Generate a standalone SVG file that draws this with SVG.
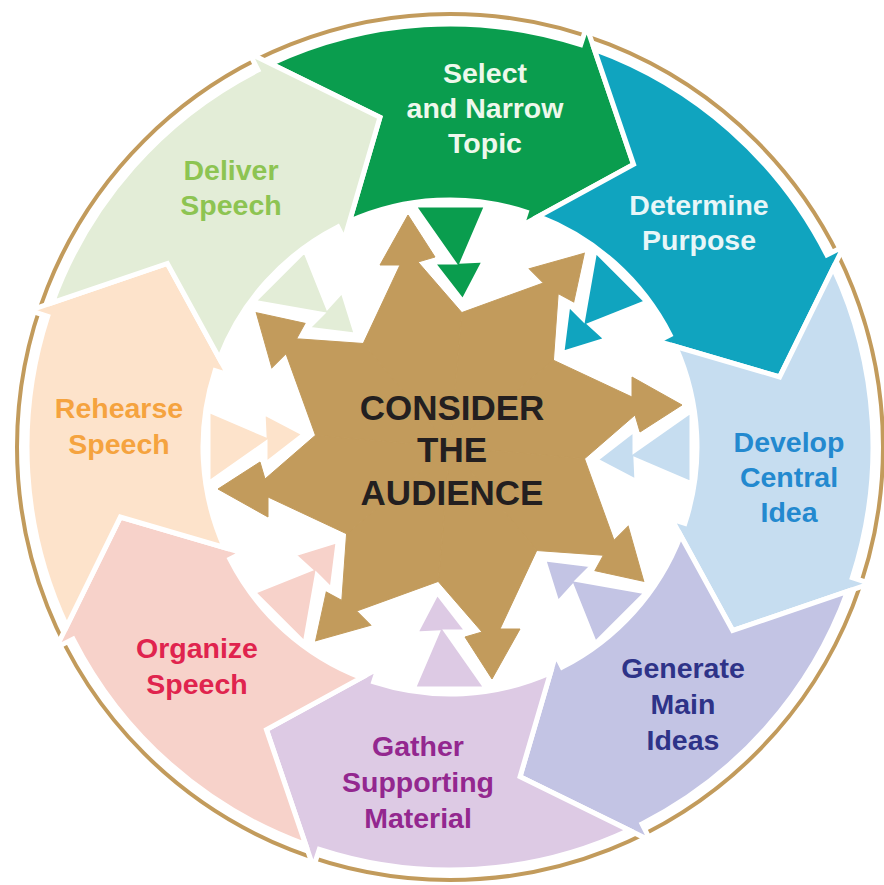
<svg xmlns="http://www.w3.org/2000/svg" xmlns:xlink="http://www.w3.org/1999/xlink" width="884" height="885" viewBox="0 0 884 885">
<style>
.lbl{font-family:"Liberation Sans",Arial,sans-serif;font-weight:bold;font-size:28.5px;text-anchor:middle}
.ctr{font-family:"Liberation Sans",Arial,sans-serif;font-weight:bold;font-size:35px;text-anchor:middle;fill:#231F20}
</style>
<defs>
<path id="seg" stroke="#FFFFFF" stroke-width="5" stroke-linejoin="miter" d="M270.91,63.78 A423,423 0 0 1 580.71,44.70 L586.59,26.63 L633.54,164.37 L522.00,225.40 L526.33,212.09 A247,247 0 0 0 349.50,221.37 L379.93,117.36 Z"/>
<polygon id="inw" stroke="#FFFFFF" stroke-width="5" stroke-linejoin="miter" points="413,205 487,205 463,261 485,260 463,302 432,262 453,262"/>
<polygon id="pt" fill="#C29B5C" stroke="#C29B5C" stroke-width="1" points="450,447 363.22,343.58 400,265 380,265 408,215 435,257 418,262 461.77,312.51"/>
</defs>
<rect width="884" height="885" fill="#FFFFFF"/>
<circle cx="450" cy="447" r="433" fill="none" stroke="#C29B5C" stroke-width="4"/>

<g id="node-select">
<use xlink:href="#seg" href="#seg" fill="#0A9D4E"/>
<text class="lbl" fill="#EEF8EC" x="485" y="83">Select</text>
<text class="lbl" fill="#EEF8EC" x="485" y="118">and Narrow</text>
<text class="lbl" fill="#EEF8EC" x="485" y="153">Topic</text>
</g>
<g id="node-purpose">
<use xlink:href="#seg" href="#seg" fill="#10A4BF" transform="rotate(45 450 447)"/>
<text class="lbl" fill="#E8F6F8" x="699" y="215">Determine</text>
<text class="lbl" fill="#E8F6F8" x="699" y="250">Purpose</text>
</g>
<g id="node-central-idea">
<use xlink:href="#seg" href="#seg" fill="#C6DDF0" transform="rotate(90 450 447)"/>
<text class="lbl" fill="#2389CF" x="789" y="452">Develop</text>
<text class="lbl" fill="#2389CF" x="789" y="487">Central</text>
<text class="lbl" fill="#2389CF" x="789" y="522">Idea</text>
</g>
<g id="node-main-ideas">
<use xlink:href="#seg" href="#seg" fill="#C3C4E4" transform="rotate(135 450 447)"/>
<text class="lbl" fill="#2E3388" x="683" y="678">Generate</text>
<text class="lbl" fill="#2E3388" x="683" y="714">Main</text>
<text class="lbl" fill="#2E3388" x="683" y="750">Ideas</text>
</g>
<g id="node-supporting">
<use xlink:href="#seg" href="#seg" fill="#DDCAE4" transform="rotate(180 450 447)"/>
<text class="lbl" fill="#93278F" x="418" y="756">Gather</text>
<text class="lbl" fill="#93278F" x="418" y="792">Supporting</text>
<text class="lbl" fill="#93278F" x="418" y="828">Material</text>
</g>
<g id="node-organize">
<use xlink:href="#seg" href="#seg" fill="#F7D2CA" transform="rotate(225 450 447)"/>
<text class="lbl" fill="#E0244E" x="197" y="658">Organize</text>
<text class="lbl" fill="#E0244E" x="197" y="694">Speech</text>
</g>
<g id="node-rehearse">
<use xlink:href="#seg" href="#seg" fill="#FDE3CB" transform="rotate(270 450 447)"/>
<text class="lbl" fill="#F5A33F" x="119" y="418">Rehearse</text>
<text class="lbl" fill="#F5A33F" x="119" y="454">Speech</text>
</g>
<g id="node-deliver">
<use xlink:href="#seg" href="#seg" fill="#E3EDD7" transform="rotate(315 450 447)"/>
<text class="lbl" fill="#8DC452" x="231" y="180">Deliver</text>
<text class="lbl" fill="#8DC452" x="231" y="215">Speech</text>
</g>

<g id="connectors">
<use xlink:href="#inw" href="#inw" fill="#0A9D4E"/>
<use xlink:href="#inw" href="#inw" fill="#10A4BF" transform="rotate(45 450 447)"/>
<use xlink:href="#inw" href="#inw" fill="#C6DDF0" transform="rotate(90 450 447)"/>
<use xlink:href="#inw" href="#inw" fill="#C3C4E4" transform="rotate(135 450 447)"/>
<use xlink:href="#inw" href="#inw" fill="#DDCAE4" transform="rotate(180 450 447)"/>
<use xlink:href="#inw" href="#inw" fill="#F7D2CA" transform="rotate(225 450 447)"/>
<use xlink:href="#inw" href="#inw" fill="#FDE3CB" transform="rotate(270 450 447)"/>
<use xlink:href="#inw" href="#inw" fill="#E3EDD7" transform="rotate(315 450 447)"/>
</g>

<g id="node-audience">
<use xlink:href="#pt" href="#pt"/>
<use xlink:href="#pt" href="#pt" transform="rotate(45 450 447)"/>
<use xlink:href="#pt" href="#pt" transform="rotate(90 450 447)"/>
<use xlink:href="#pt" href="#pt" transform="rotate(135 450 447)"/>
<use xlink:href="#pt" href="#pt" transform="rotate(180 450 447)"/>
<use xlink:href="#pt" href="#pt" transform="rotate(225 450 447)"/>
<use xlink:href="#pt" href="#pt" transform="rotate(270 450 447)"/>
<use xlink:href="#pt" href="#pt" transform="rotate(315 450 447)"/>
<text class="ctr" x="452" y="420">CONSIDER</text>
<text class="ctr" x="452" y="462">THE</text>
<text class="ctr" x="452" y="505">AUDIENCE</text>
</g>
</svg>
